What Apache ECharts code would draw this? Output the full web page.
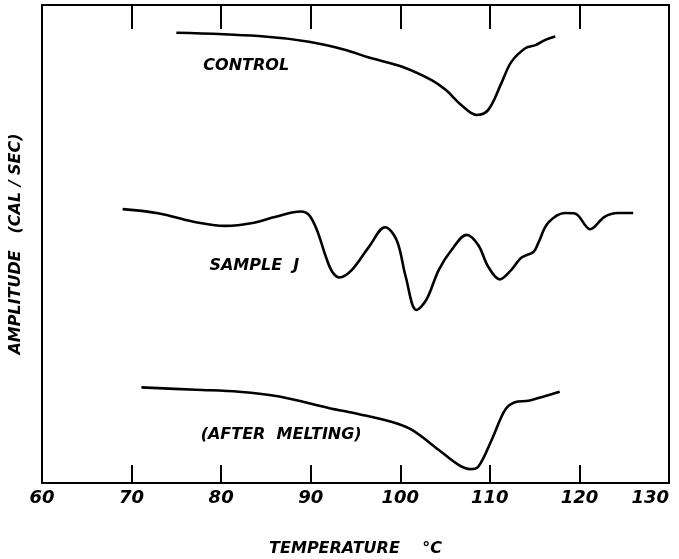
<!DOCTYPE html>
<html>
<head>
<meta charset="utf-8">
<script src="https://cdn.jsdelivr.net/npm/echarts@6/dist/echarts.min.js"></script>
<style>
    html, body { margin: 0; padding: 0; background: #fff; }
    #chart { width: 679px; height: 559px; }
</style>
</head>
<body>
<div id="chart"></div>
<script>
// 读图得到的数据 (温度 °C, 幅值 相对单位)
var controlT = [75.0, 84.2, 89.8, 93.9, 96.5, 100.2, 103.5, 105.1, 106.8, 108.5, 109.8, 111.3, 112.4, 114.0, 115.1, 116.2, 117.3];
var controlY = [94.2, 93.5, 92.3, 90.6, 89.0, 87.1, 84.3, 82.2, 79.1, 77.0, 78.0, 83.7, 88.1, 91.0, 91.6, 92.7, 93.4];

var sampleT = [69.0, 73.1, 76.8, 80.5, 83.5, 86.1, 88.9, 89.8, 90.7, 91.7, 92.4, 93.2, 94.6, 96.5, 98.3, 99.6, 100.6, 101.8, 102.9,
    104.3, 105.7, 107.4, 108.7, 109.8, 111.1, 112.4, 113.5, 114.9, 115.4, 116.5, 118.4, 119.5, 121.2, 122.8, 124.3, 126.0];
var sampleY = [57.3, 56.4, 54.7, 53.8, 54.4, 55.7, 56.8, 56.1, 52.9, 47.3, 44.2, 43.0, 44.6, 49.4, 53.5, 50.8, 43.2, 36.2, 38.3,
    44.6, 48.7, 51.9, 49.8, 45.3, 42.6, 44.6, 47.1, 48.4, 50.2, 54.4, 56.5, 56.4, 53.1, 55.7, 56.5, 56.5];

var meltT = [71.1, 77.2, 82.0, 86.5, 92.0, 95.4, 99.0, 101.3, 104.3, 106.5, 107.8, 108.7, 110.2, 111.7, 112.8, 114.3, 116.2, 117.8];
var meltY = [20.0, 19.5, 19.1, 18.1, 15.7, 14.4, 12.8, 11.1, 6.9, 3.8, 2.9, 3.4, 9.0, 15.3, 16.9, 17.2, 18.2, 19.1];

var curveNames = ['CONTROL', 'SAMPLE  J', '(AFTER  MELTING)'];
var xTicks = [60, 70, 80, 90, 100, 110, 120, 130];

function pairs(xs, ys) {
    var out = [];
    for (var i = 0; i < xs.length; i++) out.push([xs[i], ys[i]]);
    return out;
}

var FONT = '"DejaVu Sans", sans-serif';
var ink = '#000';
var letter = { color: ink, fontFamily: FONT, fontStyle: 'italic', fontWeight: 'bold' };

function curve(name, data, at) {
    return {
        name: name,
        type: 'line',
        data: data,
        smooth: 0.35,
        showSymbol: false,
        lineStyle: { color: ink, width: 2.6 },
        markPoint: {
            symbol: 'circle',
            symbolSize: 1,
            itemStyle: { color: 'rgba(0,0,0,0)' },
            label: Object.assign({ show: true, position: 'inside', formatter: name, fontSize: 16 }, letter),
            data: [{ coord: at }]
        }
    };
}

var myChart = echarts.init(document.getElementById('chart'));
var option = {
    animation: false,
    grid: { left: 42, right: 10, top: 5, bottom: 76, containLabel: false, outerBoundsMode: 'none' },
    xAxis: [
        {
            type: 'value', min: xTicks[0], max: xTicks[xTicks.length - 1], interval: 10,
            name: 'TEMPERATURE    °C', nameLocation: 'middle', nameGap: 58,
            nameTextStyle: Object.assign({ fontSize: 16 }, letter),
            axisLine: { onZero: false, lineStyle: { color: ink, width: 2 } },
            axisTick: { inside: true, length: 18, lineStyle: { color: ink, width: 2 } },
            axisLabel: Object.assign({ fontSize: 18, margin: 6, alignMaxLabel: 'right' }, letter),
            splitLine: { show: false }
        },
        {
            type: 'value', position: 'top', min: xTicks[0], max: xTicks[xTicks.length - 1], interval: 10,
            axisLine: { onZero: false, lineStyle: { color: ink, width: 2 } },
            axisTick: { inside: true, length: 24, lineStyle: { color: ink, width: 2 } },
            axisLabel: { show: false },
            splitLine: { show: false }
        }
    ],
    yAxis: [
        {
            type: 'value', min: 0, max: 100,
            name: 'AMPLITUDE   (CAL / SEC)', nameLocation: 'middle', nameGap: 18, nameRotate: 90,
            nameTextStyle: Object.assign({ fontSize: 16 }, letter),
            axisLine: { show: true, onZero: false, lineStyle: { color: ink, width: 2 } },
            axisTick: { show: false }, axisLabel: { show: false }, splitLine: { show: false }
        },
        {
            type: 'value', min: 0, max: 100, position: 'right',
            axisLine: { show: true, onZero: false, lineStyle: { color: ink, width: 2 } },
            axisTick: { show: false }, axisLabel: { show: false }, splitLine: { show: false }
        }
    ],
    series: [
        curve(curveNames[0], pairs(controlT, controlY), [82.8, 87.2]),
        curve(curveNames[1], pairs(sampleT, sampleY), [83.7, 45.4]),
        curve(curveNames[2], pairs(meltT, meltY), [86.7, 10.0])
    ]
};
myChart.setOption(option);
</script>
</body>
</html>
